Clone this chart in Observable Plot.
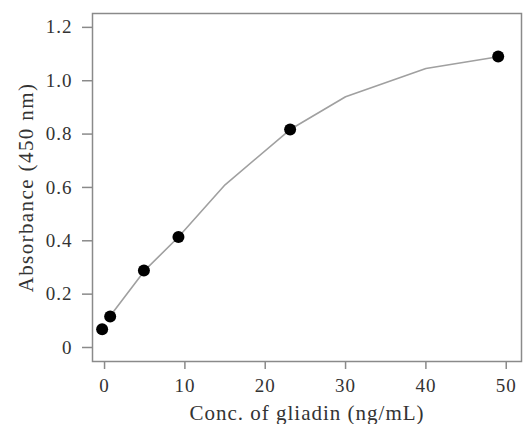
<!DOCTYPE html>
<html><head><meta charset="utf-8">
<script src="https://cdn.jsdelivr.net/npm/d3@7"></script>
<script src="https://cdn.jsdelivr.net/npm/@observablehq/plot@0.6"></script>
<style>body{margin:0;background:#fff} svg{font-family:"Liberation Serif",serif}</style>
</head><body><div id="chart"></div>
<script>
const concentration = [-0.3, 0.7, 4.9, 9.2, 23.1, 49.0];
const absorbance = [0.068, 0.116, 0.289, 0.414, 0.817, 1.091];
const fitConc = [0.7, 5, 9.2, 15, 23.1, 30, 40, 49];
const fitAbs = [0.118, 0.289, 0.414, 0.61, 0.817, 0.94, 1.046, 1.09];
const xTicks = [0, 10, 20, 30, 40, 50];
const yTicks = [0, 0.2, 0.4, 0.6, 0.8, 1.0, 1.2];
const xLabel = "Conc. of gliadin (ng/mL)";
const yLabel = "Absorbance (450 nm)";

const points = concentration.map((c, i) => ({c, a: absorbance[i]}));
const fit = fitConc.map((c, i) => ({c, a: fitAbs[i]}));

const chart = Plot.plot({
  width: 524, height: 424,
  marginLeft: 92, marginTop: 13, marginRight: 3, marginBottom: 63,
  style: {fontFamily: "Liberation Serif, serif", background: "#fff", letterSpacing: "1px"},
  x: {domain: [-1.5, 51.9]},
  y: {domain: [-0.0525, 1.252]},
  marks: [
    Plot.frame({stroke: "#8a8a8a", strokeWidth: 1.5}),
    Plot.axisX({ticks: xTicks, tickSize: 8, tickPadding: 9, fontSize: 19, stroke: "#8a8a8a", strokeWidth: 1.5, fill: "#333", label: null, tickFormat: d => String(d)}),
    Plot.axisY({ticks: yTicks, tickSize: 10, tickPadding: 10, fontSize: 19, stroke: "#8a8a8a", strokeWidth: 1.5, fill: "#333", label: null, tickFormat: d => d === 0 ? "0" : d.toFixed(1)}),
    Plot.line(fit, {x: "c", y: "a", stroke: "#a0a0a0", strokeWidth: 1.6}),
    Plot.dot(points, {x: "c", y: "a", r: 6, fill: "#000", stroke: "none"}),
    Plot.text([xLabel], {frameAnchor: "bottom", dy: 58, fontSize: 21, fill: "#333", lineAnchor: "bottom", textAnchor: "middle"}),
    Plot.text([yLabel], {frameAnchor: "left", dx: -66, rotate: -90, fontSize: 21, fill: "#333", textAnchor: "middle"})
  ]
});
const texts = chart.querySelectorAll("g[aria-label='text']");
if (texts[1]) texts[1].style.letterSpacing = "1.4px";
document.getElementById("chart").appendChild(chart);
</script>
</body></html>
